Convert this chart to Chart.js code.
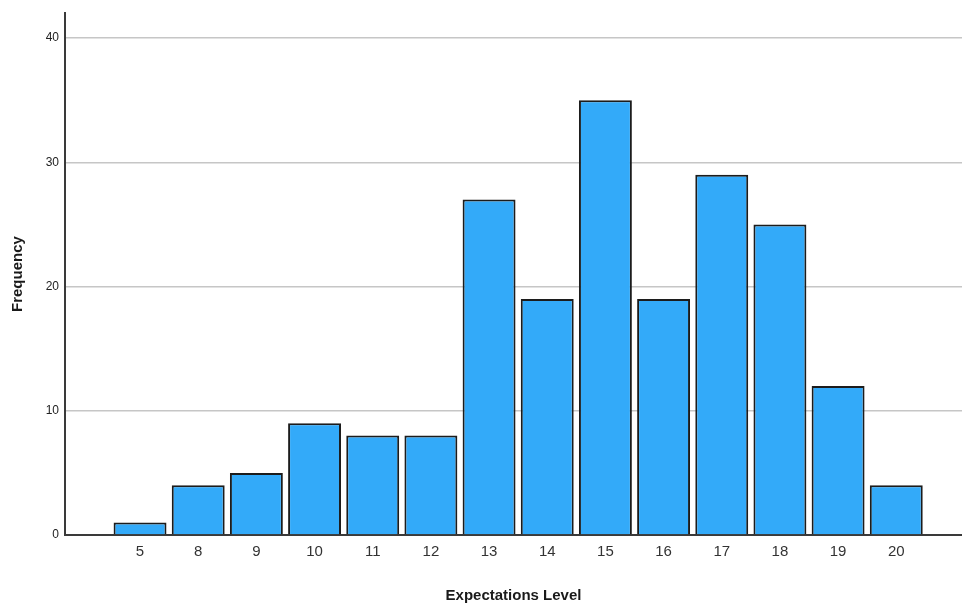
<!DOCTYPE html>
<html lang="en">
<head>
    <meta charset="UTF-8">
    <title>Expectations Level</title>
    <script src="https://cdn.jsdelivr.net/npm/chart.js"></script>
    <style>
        body { margin: 0; background: #fff; }
        #wrap { width: 962px; height: 608px; }
    </style>
</head>
<body>
    <div id="wrap"><canvas id="chart"></canvas></div>
    <script>
        // data
        var levels = ["5", "8", "9", "10", "11", "12", "13", "14", "15", "16", "17", "18", "19", "20"];
        var frequency = [1, 4, 5, 9, 8, 8, 27, 19, 35, 19, 29, 25, 12, 4];
        var yTicks = [0, 10, 20, 30, 40];

        var points = levels.map(function (l, i) { return { x: i, y: frequency[i] }; });

        new Chart(document.getElementById("chart"), {
            type: 'bar',
            data: {
                datasets: [{
                    data: points,
                    backgroundColor: "#33aaf9",
                    borderColor: "#1c1c1c",
                    borderWidth: 2,
                    barPercentage: 0.91,
                    categoryPercentage: 1
                }]
            },
            options: {
                responsive: true,
                maintainAspectRatio: false,
                animation: false,
                layout: { padding: { top: 8, right: 0, left: 0, bottom: 0 } },
                plugins: { legend: { display: false }, tooltip: { enabled: false } },
                scales: {
                    x: {
                        type: 'linear',
                        offset: false,
                        min: -1.29,
                        max: 14.13,
                        afterBuildTicks: function (s) { s.ticks = levels.map(function (l, i) { return { value: i }; }); },
                        afterFit: function (s) { s.height = 73; },
                        grid: { display: false, drawTicks: false, offset: false },
                        border: { display: true, color: "#3a3a3a", width: 2 },
                        ticks: {
                            autoSkip: false,
                            maxRotation: 0,
                            padding: 8,
                            color: "#333",
                            font: { family: "Liberation Sans", size: 15 },
                            callback: function (v) { return levels[v]; }
                        },
                        title: {
                            display: true,
                            text: "Expectations Level",
                            color: "#1a1a1a",
                            font: { family: "Liberation Sans", size: 15, weight: 'bold' },
                            padding: { top: 0, bottom: 3 }
                        }
                    },
                    y: {
                        min: 0,
                        max: 42.0,
                        afterBuildTicks: function (s) { s.ticks = yTicks.map(function (v) { return { value: v }; }); },
                        afterFit: function (s) { s.width = 65; },
                        grid: {
                            drawTicks: false,
                            lineWidth: 1.5,
                            color: function (c) { return c.tick && c.tick.value === 0 ? "rgba(0,0,0,0)" : "#c6c6c6"; }
                        },
                        border: { display: true, color: "#3a3a3a", width: 2 },
                        ticks: {
                            padding: 6,
                            color: "#222",
                            font: { family: "Liberation Sans", size: 12 }
                        },
                        title: {
                            display: true,
                            text: "Frequency",
                            color: "#1a1a1a",
                            font: { family: "Liberation Sans", size: 15, weight: 'bold' },
                            padding: { top: 9, bottom: 0 }
                        }
                    }
                }
            }
        });
    </script>
</body>
</html>
